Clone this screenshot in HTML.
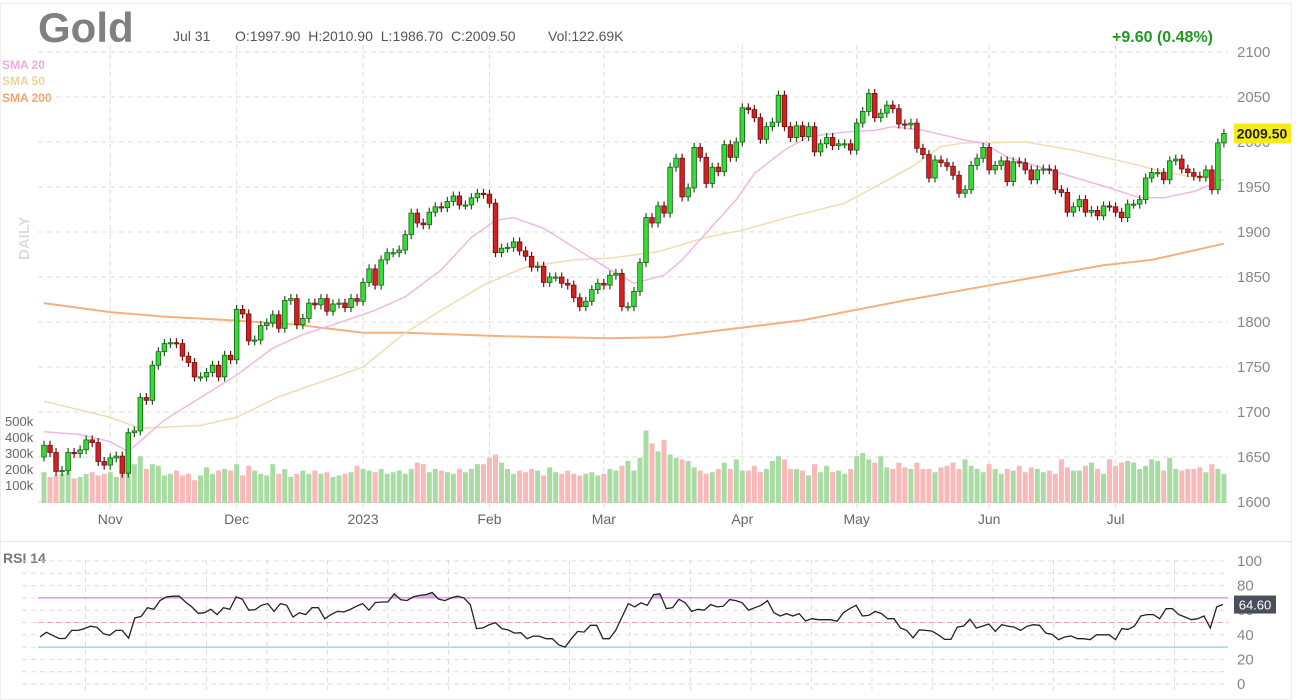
<!DOCTYPE html>
<html><head><meta charset="utf-8"><style>
body{margin:0;background:#fff;width:1298px;height:700px;overflow:hidden;font-family:"Liberation Sans",sans-serif}
svg{display:block}
</style></head><body>
<svg id="chart" width="1298" height="700" font-family="Liberation Sans, sans-serif">
<rect x="0.5" y="3.5" width="1291" height="696" fill="#fff" stroke="#eee"/>
<line x1="0" y1="541.5" x2="1292" y2="541.5" stroke="#e6e6e6"/>
<text x="38" y="42" font-size="42" font-weight="bold" fill="#808080">Gold</text>
<text x="173" y="41" font-size="14" fill="#555">Jul 31</text>
<text x="235" y="41" font-size="14" fill="#555" word-spacing="4">O:1997.90 H:2010.90 L:1986.70 C:2009.50</text>
<text x="548" y="41" font-size="14" fill="#555">Vol:122.69K</text>
<text x="1213" y="42" font-size="16" font-weight="bold" fill="#1f9a1f" text-anchor="end">+9.60 (0.48%)</text>
<text x="2" y="69" font-size="12" font-weight="bold" fill="#eeaadd">SMA 20</text>
<text x="2" y="85" font-size="12" font-weight="bold" fill="#eed39a">SMA 50</text>
<text x="2" y="102" font-size="12" font-weight="bold" fill="#f4a36a">SMA 200</text>
<text transform="translate(29,260) rotate(-90)" font-size="15" font-weight="bold" fill="#ddd">DAILY</text>
<text x="3" y="563" font-size="14" font-weight="bold" fill="#777">RSI 14</text>
<g id="grid"></g><g id="vol"></g><g id="sma"></g><g id="candles"></g><g id="axes"></g><g id="rsi"></g>
</svg>
<script>
const closes=[1663,1655,1634,1635,1655,1654,1658,1669,1666,1645,1641,1649,1651,1632,1677,1679,1716,1713,1752,1767,
1776,1777,1776,1762,1755,1739,1739,1744,1752,1739,1763,1758,1814,1809,1779,1780,1796,1799,1808,1793,
1824,1826,1797,1804,1821,1819,1826,1812,1820,1821,1816,1826,1823,1844,1859,1841,1869,1877,1877,1880,
1897,1921,1910,1908,1922,1928,1927,1934,1940,1930,1930,1938,1943,1942,1932,1877,1882,1883,1889,1879,
1873,1861,1862,1844,1850,1850,1843,1841,1827,1817,1823,1836,1843,1841,1852,1854,1817,1817,1834,1866,
1916,1910,1929,1921,1972,1982,1939,1949,1994,1983,1954,1972,1967,1997,1983,2000,2038,2036,2027,2003,
2017,2022,2052,2017,2005,2018,2006,2017,1989,1998,2005,1996,1998,1998,1991,2021,2034,2054,2027,2032,
2041,2037,2020,2019,2021,1993,1986,1960,1980,1977,1973,1963,1943,1947,1974,1982,1994,1969,1974,1979,
1956,1978,1977,1969,1958,1969,1970,1969,1947,1944,1922,1928,1936,1922,1924,1918,1929,1928,1922,1916,
1931,1931,1936,1960,1966,1966,1958,1979,1981,1970,1966,1962,1961,1969,1947,1999,2009.5];
const firstOpen=1650;
const volumes=[180,150,160,170,200,140,150,170,180,160,170,180,150,190,260,230,280,200,230,220,
160,170,190,160,170,130,160,210,170,190,200,190,230,160,220,190,170,160,230,170,
200,150,170,190,170,190,170,180,150,160,170,180,220,200,190,180,200,170,180,190,
170,200,240,230,180,200,190,180,170,200,180,200,230,230,270,290,240,200,170,190,
180,200,190,160,210,180,170,190,170,160,170,180,160,170,200,190,220,250,190,270,
440,360,310,380,290,270,260,250,210,190,170,180,200,240,200,260,190,190,220,180,
200,250,280,260,200,200,190,160,230,180,220,180,190,170,200,280,300,260,240,280,
210,200,240,210,200,240,200,200,180,210,220,240,200,260,220,200,180,230,200,170,
200,190,220,180,210,200,180,190,170,260,210,190,190,220,240,200,170,260,220,240,
250,240,200,220,260,250,190,270,200,190,200,200,210,180,230,200,170];
const sma20Day=[0,6,11,14,20,26,32,38,43,48,55,60,66,71,75,78,83,88,94,98,103,106,110,115,118,123,127,133,138,141,146,153,156,160,166,171,177,182,186,191,196];
const sma20=[1678,1675,1667,1656,1691,1716,1741,1771,1786,1797,1813,1828,1858,1894,1913,1916,1904,1883,1858,1843,1852,1869,1899,1936,1965,1991,2006,2011,2013,2017,2013,2002,1999,1983,1971,1961,1949,1938,1938,1945,1958];
const sma50Day=[0,11,16,26,32,39,48,53,60,66,73,80,88,94,102,110,116,124,133,138,144,149,153,156,163,171,180,186,191,196];
const sma50=[1712,1694,1682,1685,1694,1717,1738,1750,1788,1813,1841,1861,1869,1871,1878,1894,1902,1917,1932,1950,1972,1995,1999,1999,2000,1991,1977,1967,1961,1958];
const sma200Day=[0,11,20,31,42,53,60,77,94,103,109,126,143,159,176,184,196];
const sma200=[1821,1811,1806,1802,1797,1788,1788,1784,1782,1783,1788,1802,1824,1843,1863,1869,1887];
const rsi=[38.2,42,39.5,37,37,43.6,43.6,45,47,46,41,39.5,43.6,43.6,37.3,53.7,55,62,60.7,68,70.8,71.4,71.4,66.7,62.7,57.5,58,60.7,56.4,62,60.7,70.8,68.9,60,60.5,64,65.4,59,65.4,64,54.5,58,56.4,62,62,53,56.4,59,58.5,60.5,63.2,65.4,60,66.2,66.7,66.7,73.3,68.6,67.8,70.8,72,72.7,74.4,69,67.8,70,71.4,70,64.6,45,45.5,48.2,49.9,45,44,41.4,41.7,36.8,39,38.7,36.8,36.8,31.9,30,36.8,42.8,42.2,47.7,47.7,36.8,36.8,43.6,54.5,65.4,
62.7,66,64,72.7,73.3,61.3,62,68.9,66,59,60.7,60,64.6,62.7,63.2,68.6,67.8,66,60,62,64,67.8,58,55.3,57.2,55.3,57.2,51.2,53.1,52.3,52.3,52.3,51,58,61.3,64,55.3,55.8,59,57.2,53.1,53.1,45.5,43.6,37.6,44.1,43.6,43,40,36.3,36.3,46.3,47.1,52.6,45.5,47.1,48.8,42.8,48.2,47.1,46.3,43.6,46.9,48.2,47.7,41.4,40.3,36,38.2,39,36.8,36.8,36,40,40,40,36,45,44.4,47.1,55.3,56.4,56.4,53.1,61.3,61.3,56.4,54.5,52.3,53.1,55.3,45.5,62.7,64.6];
const priceTicks=[2100,2050,2000,1950,1900,1850,1800,1750,1700,1650,1600];
const volTicks=[500,400,300,200,100];
const volTickLabels=["500k","400k","300k","200k","100k"];
const rsiTicks=[100,80,60,40,20,0];
const monthLabels=["Nov","Dec","2023","Feb","Mar","Apr","May","Jun","Jul"];
const monthDay=[11,32,53,74,93,116,135,157,178];

const NS="http://www.w3.org/2000/svg";
const X0=44, DX=6.02;
const xDay=d=>X0+d*DX;
const yP=p=>52+(2100-p)*0.9;
const yV=v=>501-v*0.16;
const yR=r=>684-r*1.23;
function mk(tag,attrs,parent){const e=document.createElementNS(NS,tag);for(const k in attrs)e.setAttribute(k,attrs[k]);document.getElementById(parent).appendChild(e);return e;}

priceTicks.forEach(t=>{
  const l=mk('line',{x1:38,x2:1228,y1:yP(t),y2:yP(t),stroke:'#ddd','stroke-dasharray':'5,4'},'grid');
  
  
  const tx=mk('text',{x:1237,y:yP(t)+5,'font-size':15,fill:'#888'},'axes');tx.textContent=t;
  
  
});
monthDay.forEach((d,i)=>{
  const l=mk('line',{x1:xDay(d),x2:xDay(d),y1:45,y2:508,stroke:'#ddd','stroke-dasharray':'5,4'},'grid');
  
  
  const tx=mk('text',{x:xDay(d),y:524,'font-size':14,fill:'#666','text-anchor':'middle'},'axes');tx.textContent=monthLabels[i];
  
  
});
volTicks.forEach((v,i)=>{
  const tx=mk('text',{x:5,y:yV(v)+5,'font-size':13,fill:'#666'},'axes');tx.textContent=volTickLabels[i];
  
  
});
for(let r=100;r>=0;r-=10){
  const l=mk('line',{x1:22,x2:1228,y1:yR(r),y2:yR(r),stroke:'#ddd','stroke-dasharray':'5,4'},'grid');
  
  
}
for(let x=85.5;x<1228;x+=60.5){
  const l=mk('line',{x1:x,x2:x,y1:560,y2:690,stroke:'#ddd','stroke-dasharray':'5,4'},'grid');
  
  
}
rsiTicks.forEach(t=>{
  const tx=mk('text',{x:1237,y:yR(t)+5,'font-size':15,fill:'#888'},'axes');tx.textContent=t;
  
  
});
let prev=firstOpen;
closes.forEach((c,i)=>{
  const o=prev; prev=c;
  const up=c>=o, x=xDay(i);
  const vb=mk('rect',{x:x-2.5,y:yV(volumes[i]),width:5,height:503-yV(volumes[i]),fill:up?'#a9dca3':'#f9b9b9'},'vol');
  
  
  const hi=Math.max(o,c)+5, lo=Math.min(o,c)-5;
  const w=mk('line',{x1:x,x2:x,y1:yP(hi),y2:yP(lo),stroke:up?'#1d5a1d':'#6a1010','stroke-width':1.2},'candles');
  
  
  const top=yP(Math.max(o,c)), h=Math.max(1.2,Math.abs(yP(o)-yP(c)));
  const b=mk('rect',{x:x-2.3,y:top,width:4.6,height:h,fill:up?'#33dd33':'#d42020',stroke:up?'#1d5a1d':'#6a1010','stroke-width':0.8},'candles');
  
  
});
function line(days,vals,color,name,w){
  const pts=days.map((d,i)=>xDay(d).toFixed(1)+','+yP(vals[i]).toFixed(1)).join(' ');
  const p=mk('polyline',{points:pts,fill:'none',stroke:color,'stroke-width':w},'sma');
  
  
}
line(sma200Day,sma200,'#f6b07e','sma200-line',2);
line(sma50Day,sma50,'#f1dcb0','sma50-line',1.5);
line(sma20Day,sma20,'#f0b8e6','sma20-line',1.5);
const rx=i=>40+i*(1183/(rsi.length-1));
const rl1=mk('line',{x1:38,x2:1228,y1:yR(70),y2:yR(70),stroke:'#d9a0e6','stroke-width':1.5},'rsi');


const rl2=mk('line',{x1:38,x2:1228,y1:yR(50),y2:yR(50),stroke:'#f0a0a0','stroke-dasharray':'5,4'},'rsi');


const rl3=mk('line',{x1:38,x2:1228,y1:yR(30),y2:yR(30),stroke:'#9fd4ea','stroke-width':1.5},'rsi');


const rpts=rsi.map((r,i)=>rx(i).toFixed(1)+','+yR(r).toFixed(1));
const cp=mk('clipPath',{id:'above70'},'rsi');
const cr=document.createElementNS(NS,'rect');cr.setAttribute('x',0);cr.setAttribute('y',0);cr.setAttribute('width',1298);cr.setAttribute('height',yR(70));cp.appendChild(cr);
const fillPoly=mk('polygon',{points:rx(0)+','+yR(70)+' '+rpts.join(' ')+' '+rx(rsi.length-1)+','+yR(70),fill:'#c77fd6','fill-opacity':0.6,'clip-path':'url(#above70)'},'rsi');


const rp=mk('polyline',{points:rpts.join(' '),fill:'none',stroke:'#222','stroke-width':1.3},'rsi');


const last=closes[closes.length-1];
const pb=mk('rect',{x:1234,y:yP(last)-10,width:57,height:20,fill:'#f5ea1a'},'axes');


const pt=mk('text',{x:1262,y:yP(last)+5,'font-size':14,'font-weight':'bold',fill:'#222','text-anchor':'middle'},'axes');pt.textContent=last.toFixed(2);


const lr=rsi[rsi.length-1];
const rb=mk('rect',{x:1234,y:yR(lr)-9,width:42,height:18,fill:'#4a4f5a'},'axes');


const rt=mk('text',{x:1255,y:yR(lr)+5,'font-size':13,fill:'#fff','text-anchor':'middle'},'axes');rt.textContent=lr.toFixed(2);


</script>
</body></html>
